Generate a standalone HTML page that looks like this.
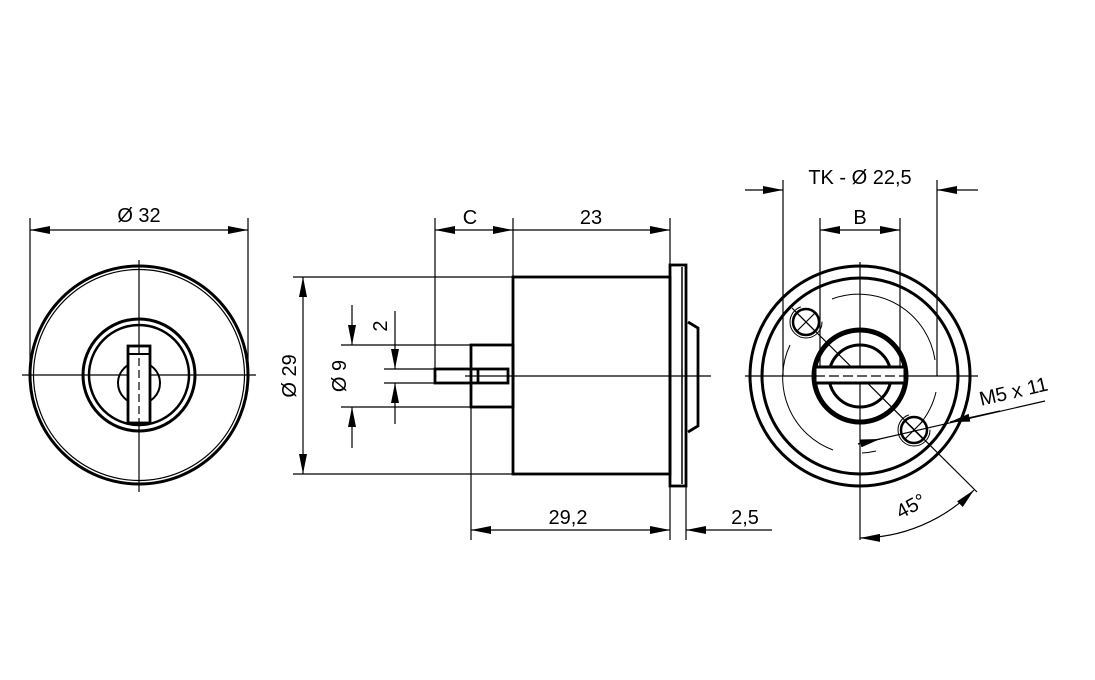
<!DOCTYPE html>
<html><head><style>html,body{margin:0;padding:0;background:#fff}svg{display:block}text{font-family:"Liberation Sans",sans-serif;font-size:20px;fill:#000}</style></head><body>
<svg width="1095" height="680" viewBox="0 0 1095 680" xmlns="http://www.w3.org/2000/svg">
<defs>
<marker id="a" viewBox="0 0 20 8" refX="20" refY="4" markerWidth="20" markerHeight="8" markerUnits="userSpaceOnUse" orient="auto-start-reverse"><path d="M0,0 L20,4 L0,8 z" fill="#000"/></marker>
</defs>
<g fill="none" stroke="#000">
<!-- LEFT VIEW -->
<g stroke-width="1.2">
<line x1="22" y1="375" x2="256" y2="375"/><line x1="139" y1="260" x2="139" y2="492"/>
<line x1="30" y1="218" x2="30" y2="372"/><line x1="248" y1="218" x2="248" y2="372"/>
<line x1="30" y1="230" x2="248" y2="230" marker-start="url(#a)" marker-end="url(#a)"/>
</g>
<circle cx="139" cy="375" r="109" stroke-width="3"/>
<circle cx="139" cy="375" r="105.5" stroke-width="1.2"/>
<circle cx="139" cy="375" r="56" stroke-width="3"/>
<circle cx="139" cy="375" r="50" stroke-width="2.5"/>
<circle cx="139" cy="383" r="21" stroke-width="2"/>
<rect x="128" y="346" width="22" height="77" fill="#fff" stroke-width="2.8"/>
<line x1="128" y1="354" x2="150" y2="354" stroke-width="2"/>
<line x1="139" y1="346" x2="139" y2="423" stroke-width="1.2" stroke-dasharray="8 4"/>

<!-- MIDDLE VIEW -->
<g stroke-width="1.2">
<line x1="465" y1="376" x2="711" y2="376"/>
<line x1="293" y1="277" x2="513" y2="277"/><line x1="293" y1="474" x2="513" y2="474"/>
<line x1="303" y1="277" x2="303" y2="474" marker-start="url(#a)" marker-end="url(#a)"/>
<line x1="341" y1="345" x2="471" y2="345"/><line x1="341" y1="407" x2="471" y2="407"/>
<line x1="352" y1="305" x2="352" y2="345" marker-end="url(#a)"/><line x1="352" y1="448" x2="352" y2="407" marker-end="url(#a)"/>
<line x1="384" y1="369" x2="435" y2="369"/><line x1="384" y1="383" x2="435" y2="383"/>
<line x1="395" y1="311" x2="395" y2="369" marker-end="url(#a)"/><line x1="395" y1="424" x2="395" y2="383" marker-end="url(#a)"/>
<line x1="435" y1="218" x2="435" y2="369"/><line x1="513" y1="218" x2="513" y2="277"/><line x1="670" y1="218" x2="670" y2="265"/>
<line x1="435" y1="230" x2="513" y2="230" marker-start="url(#a)" marker-end="url(#a)"/>
<line x1="513" y1="230" x2="670" y2="230" marker-end="url(#a)"/>
<line x1="471" y1="407" x2="471" y2="540"/><line x1="670" y1="486" x2="670" y2="540"/><line x1="686" y1="486" x2="686" y2="540"/>
<line x1="471" y1="530" x2="670" y2="530" marker-start="url(#a)" marker-end="url(#a)"/>
<line x1="772" y1="530" x2="686" y2="530" marker-end="url(#a)"/>
</g>
<g stroke-width="2.8">
<rect x="513" y="277" width="157" height="197"/>
<rect x="670" y="265" width="16" height="221"/>
<line x1="682" y1="267" x2="682" y2="484" stroke-width="1.5"/>
<path d="M688,322 L698,328 L698,426 L688,432"/>
<rect x="471" y="345" width="42" height="62"/>
<rect x="435" y="369" width="73" height="14"/>
<line x1="478" y1="369" x2="478" y2="383"/>
</g>
<!-- RIGHT VIEW -->
<g stroke-width="1.2">
<line x1="745" y1="376" x2="978" y2="376"/><line x1="860" y1="262" x2="860" y2="540"/>
<line x1="783" y1="180" x2="783" y2="376"/><line x1="937" y1="180" x2="937" y2="376"/>
<line x1="745" y1="190" x2="783" y2="190" marker-end="url(#a)"/><line x1="978" y1="190" x2="937" y2="190" marker-end="url(#a)"/>
<line x1="820" y1="218" x2="820" y2="370"/><line x1="900" y1="218" x2="900" y2="370"/>
<line x1="820" y1="230" x2="900" y2="230" marker-start="url(#a)" marker-end="url(#a)"/>
<line x1="792" y1="308" x2="977" y2="492"/>
<path d="M858,444 L1045,401"/>
<line x1="858" y1="444" x2="880" y2="439" marker-end="url(#a)"/>
<line x1="1000" y1="411" x2="950" y2="422" marker-end="url(#a)"/>
<path d="M860,538 A162,162 0 0 0 974,490" marker-start="url(#a)" marker-end="url(#a)"/>
<path d="M833,450 A77,77 0 0 1 790,345" stroke-width="1"/>
<path d="M832,299 A77,77 0 0 1 935,360" stroke-width="1"/>
<path d="M936,392 A77,77 0 0 1 920,424" stroke-width="1"/>
<path d="M876,451 A77,77 0 0 1 862,453" stroke-width="1"/>
<circle cx="806" cy="322" r="16" stroke-width="1" stroke-dasharray="70 30"/>
<circle cx="914" cy="430" r="16" stroke-width="1" stroke-dasharray="70 30"/>
<line x1="797" y1="313" x2="815" y2="331"/><line x1="815" y1="313" x2="797" y2="331"/>
<line x1="905" y1="421" x2="923" y2="439"/><line x1="923" y1="421" x2="905" y2="439"/>
</g>
<circle cx="860" cy="376" r="110" stroke-width="3"/>
<circle cx="860" cy="376" r="98" stroke-width="3"/>
<circle cx="806" cy="322" r="13" stroke-width="2.5"/>
<circle cx="914" cy="430" r="13" stroke-width="2.5"/>
<circle cx="860" cy="376" r="46" stroke-width="5"/>
<circle cx="860" cy="376" r="31" stroke-width="3"/>
<rect x="815" y="367" width="90" height="16" fill="#fff" stroke-width="3"/>
<line x1="815" y1="376" x2="905" y2="376" stroke-width="1.2" stroke-dasharray="10 4"/>
</g>
<!-- TEXT -->
<text x="139" y="222" text-anchor="middle">Ø 32</text>
<text x="470" y="224" text-anchor="middle">C</text>
<text x="591" y="224" text-anchor="middle">23</text>
<text x="568" y="524" text-anchor="middle">29,2</text>
<text x="745" y="524" text-anchor="middle">2,5</text>
<text transform="translate(296,376) rotate(-90)" text-anchor="middle">Ø 29</text>
<text transform="translate(346,376) rotate(-90)" text-anchor="middle">Ø 9</text>
<text transform="translate(387,326) rotate(-90)" text-anchor="middle">2</text>
<text x="860" y="184" text-anchor="middle">TK - Ø 22,5</text>
<text x="860" y="224" text-anchor="middle">B</text>
<text transform="translate(1015,398) rotate(-13)" text-anchor="middle">M5 x 11</text>
<text transform="translate(914,512) rotate(-28)" text-anchor="middle">45°</text>
</svg>
</body></html>
